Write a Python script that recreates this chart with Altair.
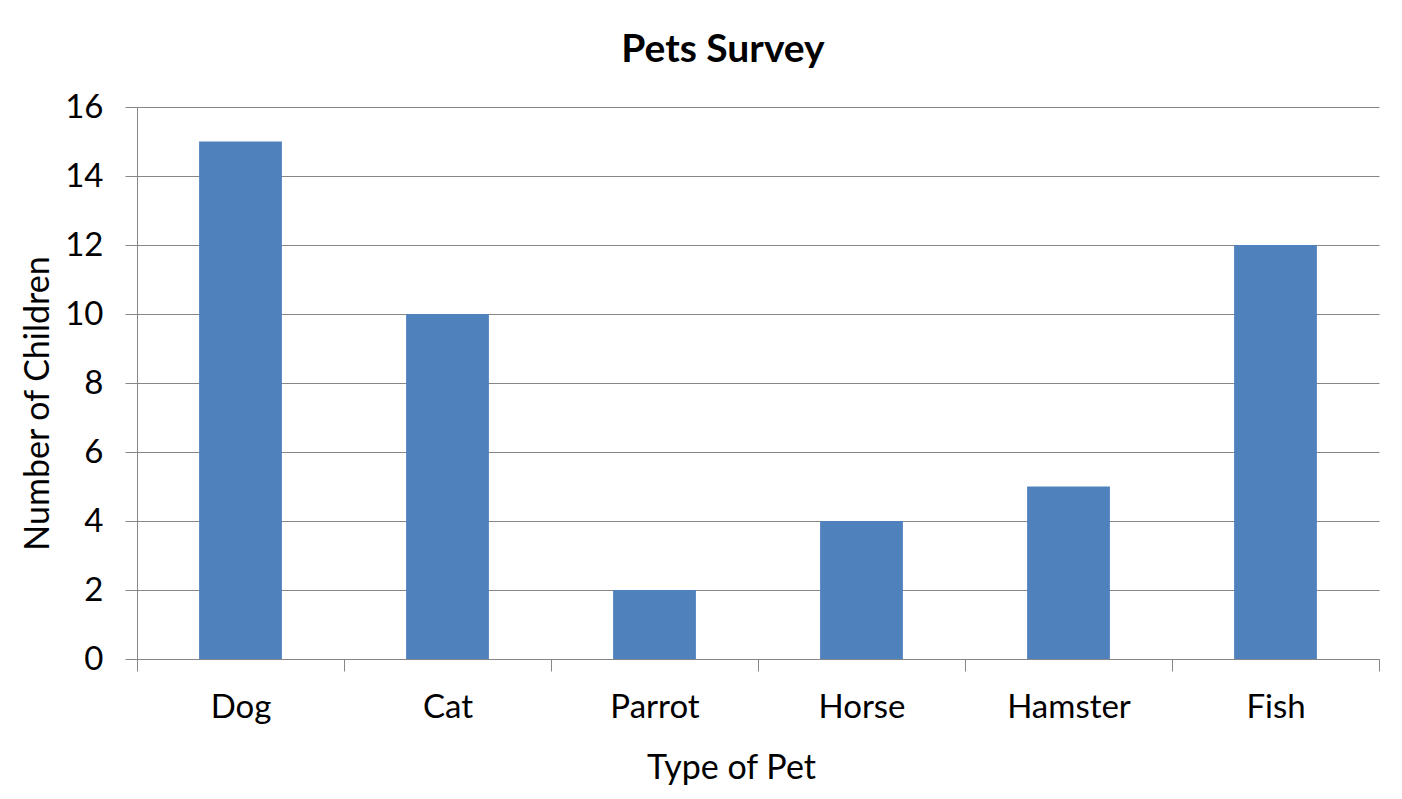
import altair as alt
import pandas as pd

pets = ["Dog", "Cat", "Parrot", "Horse", "Hamster", "Fish"]
children = [15, 10, 2, 4, 5, 12]
y_ticks = [0, 2, 4, 6, 8, 10, 12, 14, 16]

df = pd.DataFrame({"pet": pets, "n": children})

FONT = "Lato"
GRAY = "#868686"

chart = alt.Chart(df).mark_bar(color="#4F81BD", width=alt.RelativeBandSize(0.4)).encode(
    x=alt.X("pet:N", sort=pets,
            scale=alt.Scale(paddingInner=0, paddingOuter=0),
            axis=alt.Axis(title="Type of Pet", labelAngle=0, tickBand="extent",
                          domainColor=GRAY, tickColor=GRAY, tickSize=12,
                          labelFontSize=33, labelFont=FONT, labelColor="black",
                          labelPadding=20, titleFontSize=34, titleFont=FONT,
                          titleFontWeight="normal", titleColor="black",
                          titleX=594, titleY=109, titleBaseline="middle")),
    y=alt.Y("n:Q", scale=alt.Scale(domain=[0, 16], nice=False),
            axis=alt.Axis(title="Number of Children", values=y_ticks,
                          domainColor=GRAY, tickColor=GRAY, tickSize=12,
                          gridColor=GRAY, grid=True,
                          labelFontSize=33, labelFont=FONT, labelColor="black",
                          labelPadding=22, titleFontSize=34, titleFont=FONT,
                          titleFontWeight="normal", titleColor="black",
                          titleX=-99, titleY=296, titleBaseline="middle")),
).properties(
    width=1242, height=552,
    title=alt.TitleParams("Pets Survey", font=FONT, fontSize=39, fontWeight="bold",
                          color="black", anchor="middle", dx=-35, offset=21),
    autosize=alt.AutoSizeParams(type="none"),
    padding={"left": 129, "top": 99, "right": 15, "bottom": 132},
).configure_view(stroke=None)

chart.save("out.html", embed_options={"renderer": "svg", "actions": False})
